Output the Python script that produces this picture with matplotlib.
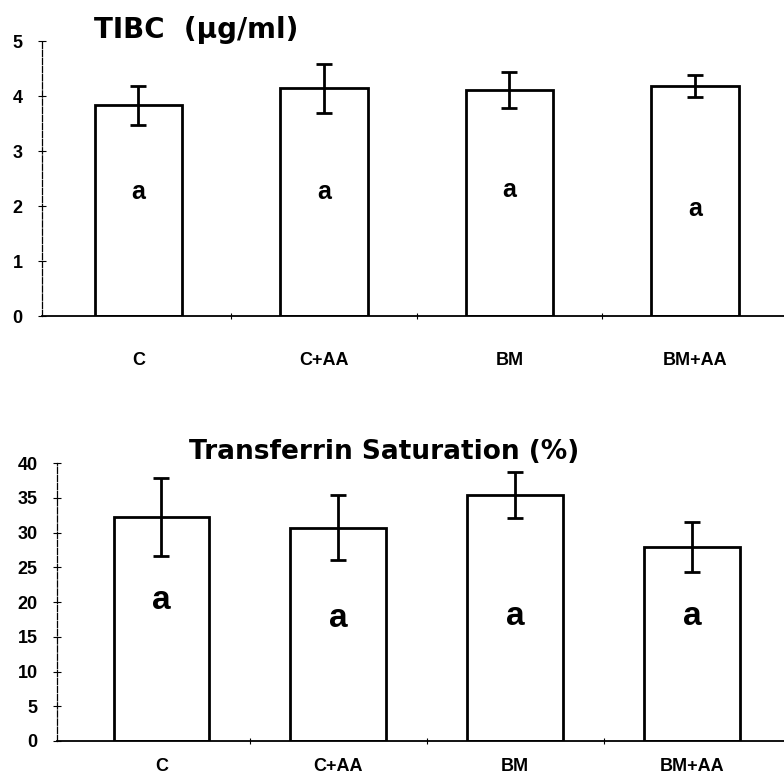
import matplotlib.pyplot as plt
import numpy as np

groups = ['C', 'C+AA', 'BM', 'BM+AA']

# TIBC (ug/ml)
tibc_mean = [3.83, 4.14, 4.11, 4.19]
tibc_err = [0.36, 0.44, 0.33, 0.20]
tibc_letter = ['a', 'a', 'a', 'a']
tibc_letter_y = [2.25, 2.25, 2.29, 1.95]

# Transferrin saturation (%)
sat_mean = [32.3, 30.7, 35.4, 28.0]
sat_err = [5.6, 4.7, 3.35, 3.6]
sat_letter = ['a', 'a', 'a', 'a']
sat_letter_y = [20.3, 17.7, 17.9, 17.9]

plt.rcParams['font.family'] = ['Liberation Sans', 'DejaVu Sans']
plt.rcParams['font.weight'] = 'bold'

fig = plt.figure(figsize=(7.84, 7.78), dpi=100)


def style_axes(ax, xlim, xpad):
    ax.set_xlim(*xlim)
    for s in ['top', 'right']:
        ax.spines[s].set_visible(False)
    ax.spines['left'].set_linestyle((0, (5, 1.5)))
    ax.spines['left'].set_linewidth(0.9)
    ax.spines['bottom'].set_linewidth(1.3)
    ax.set_xticks(np.arange(len(groups)))
    ax.set_xticklabels(groups)
    ax.set_xticks([0.5, 1.5, 2.5], minor=True)
    ax.tick_params(axis='x', which='major', length=0, pad=xpad, labelsize=13)
    ax.tick_params(axis='x', which='minor', direction='inout', length=5, width=0.8)
    ax.tick_params(axis='y', direction='inout', length=6, width=0.8, labelsize=13, pad=11)
    for lab in ax.get_xticklabels() + ax.get_yticklabels():
        lab.set_fontweight('bold')


# top chart
ax1 = fig.add_axes([0.0536, 0.5938, 0.9464, 0.3535])
x = np.arange(len(groups))
ax1.bar(x, tibc_mean, width=0.47, color='white', edgecolor='black', linewidth=2)
ax1.errorbar(x, tibc_mean, yerr=tibc_err, fmt='none', ecolor='black', elinewidth=2,
             capsize=6, capthick=2)
for xi, yi, t in zip(x, tibc_letter_y, tibc_letter):
    ax1.text(xi, yi, t, ha='center', va='center', fontsize=18, fontweight='bold')
ax1.set_ylim(0, 5)
ax1.set_yticks(range(0, 6))
style_axes(ax1, (-0.52, 3.48), 26)
fig.text(0.12, 0.962, 'TIBC  (µg/ml)', fontsize=20, fontweight='heavy',
         family='DejaVu Sans', ha='left', va='center')

# bottom chart
ax2 = fig.add_axes([0.0727, 0.0476, 0.9273, 0.357])
ax2.bar(x, sat_mean, width=0.54, color='white', edgecolor='black', linewidth=2)
ax2.errorbar(x, sat_mean, yerr=sat_err, fmt='none', ecolor='black', elinewidth=2,
             capsize=6, capthick=2)
for xi, yi, t in zip(x, sat_letter_y, sat_letter):
    ax2.text(xi, yi, t, ha='center', va='center', fontsize=24, fontweight='bold')
ax2.set_ylim(0, 40)
ax2.set_yticks(range(0, 45, 5))
style_axes(ax2, (-0.59, 3.52), 12)
fig.text(0.49, 0.419, 'Transferrin Saturation (%)', fontsize=19, fontweight='heavy',
         family='DejaVu Sans', ha='center', va='center')

fig.savefig('out.png', dpi=100)
